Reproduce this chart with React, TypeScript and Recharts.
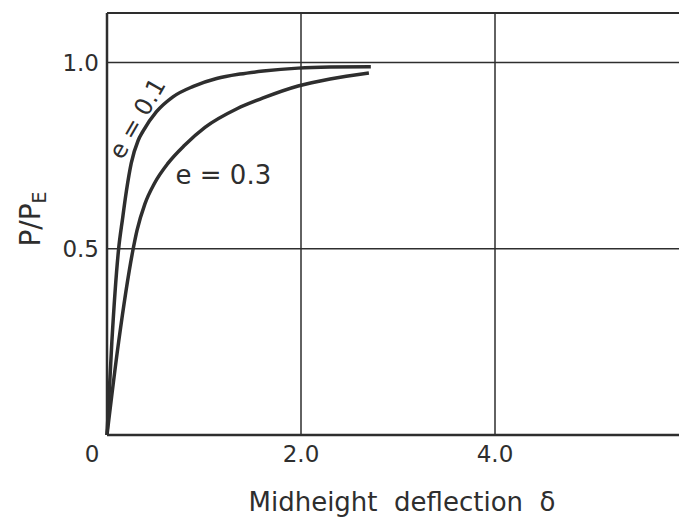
import React from 'react';
import { LineChart, Line, XAxis, YAxis, CartesianGrid, ReferenceLine, ReferenceDot } from 'recharts';

// midheight deflection vs P/PE
const deflectionE01 = [0, 0.05, 0.12, 0.16, 0.2, 0.25, 0.32, 0.37, 0.51, 0.68, 0.89, 1.13, 1.37, 1.61, 1.97, 2.3, 2.72];
const loadE01 = [0, 0.25, 0.5, 0.58, 0.655, 0.73, 0.79, 0.815, 0.868, 0.908, 0.936, 0.957, 0.969, 0.977, 0.985, 0.988, 0.989];

const deflectionE03 = [0, 0.12, 0.27, 0.31, 0.39, 0.49, 0.63, 0.8, 1.01, 1.34, 1.61, 1.97, 2.3, 2.7];
const loadE03 = [0, 0.25, 0.5, 0.55, 0.62, 0.676, 0.73, 0.778, 0.826, 0.876, 0.905, 0.937, 0.956, 0.972];

const xTicks = [0, 2, 4];
const yTicks = [0.5, 1.0];
const X_MAX = 6;
const Y_MAX = 1.133;

// curve labels, in data coordinates
const curveLabels = [
  { text: 'e = 0.1', d: 0.31, p: 0.85, angle: -60, size: 24 },
  { text: 'e = 0.3', d: 1.2, p: 0.698, angle: 0, size: 26 },
];

const ink = '#2e2e2e';
const font = '"DejaVu Sans", sans-serif';
const gap = '\u00a0\u00a0';

const toPoints = (xs: number[], ys: number[]) => xs.map((d, i) => ({ d, p: ys[i] }));

function XTick({ x, y, payload }: any) {
  const shift = payload.value === 0 ? -15 : 0;
  return (
    <text x={x + shift} y={y} dy="0.75em" textAnchor="middle" fill={ink} fontSize={23} fontFamily={font}>
      {payload.value === 0 ? '0' : payload.value.toFixed(1)}
    </text>
  );
}

function YTitle({ viewBox }: any) {
  const cx = 30;
  const cy = viewBox.y + viewBox.height / 2 - 5;
  return (
    <text transform={`rotate(-90 ${cx} ${cy})`} x={cx} y={cy} dy="0.35em" textAnchor="middle" fill={ink} fontSize={28} fontFamily={font}>
      <tspan>P/P</tspan>
      <tspan fontSize={19} dy={6}>E</tspan>
    </text>
  );
}

function CurveText({ cx, cy, text, angle, size }: any) {
  return (
    <text x={cx} y={cy} dy="0.35em" textAnchor="middle" transform={`rotate(${angle} ${cx} ${cy})`} fill={ink} fontSize={size} fontFamily={font}>
      {text}
    </text>
  );
}

export default function App() {
  const e01 = toPoints(deflectionE01, loadE01);
  const e03 = toPoints(deflectionE03, loadE03);

  return (
    <div style={{ position: 'absolute', left: 0, top: 0, width: 679, height: 520, overflow: 'hidden', background: '#fff' }}>
      <LineChart width={700} height={520} margin={{ top: 13, right: 11, left: 0, bottom: 0 }}>
        <CartesianGrid stroke={ink} strokeWidth={1.5} />
        <XAxis
          type="number"
          dataKey="d"
          domain={[0, X_MAX]}
          ticks={xTicks}
          tick={<XTick />}
          tickLine={false}
          tickMargin={4}
          height={85}
          axisLine={{ stroke: ink, strokeWidth: 2.5 }}
          label={{ value: `Midheight${gap}deflection${gap}\u03b4`, position: 'insideBottom', offset: 9, fill: ink, fontSize: 26, fontFamily: font, dx: 4 }}
        />
        <YAxis
          type="number"
          dataKey="p"
          domain={[0, Y_MAX]}
          ticks={yTicks}
          tickFormatter={(v: number) => v.toFixed(1)}
          tick={{ fill: ink, fontSize: 23, fontFamily: font }}
          tickLine={false}
          width={107}
          axisLine={{ stroke: ink, strokeWidth: 2.5 }}
          label={{ content: <YTitle /> }}
        />
        <ReferenceLine y={Y_MAX} stroke={ink} strokeWidth={2} />
        <Line data={e01} dataKey="p" type="monotone" stroke={ink} strokeWidth={3.5} dot={false} isAnimationActive={false} />
        <Line data={e03} dataKey="p" type="monotone" stroke={ink} strokeWidth={3.5} dot={false} isAnimationActive={false} />
        {curveLabels.map((l) => (
          <ReferenceDot
            key={l.text}
            x={l.d}
            y={l.p}
            r={0}
            shape={(props: any) => <CurveText {...props} text={l.text} angle={l.angle} size={l.size} />}
          />
        ))}
      </LineChart>
    </div>
  );
}
